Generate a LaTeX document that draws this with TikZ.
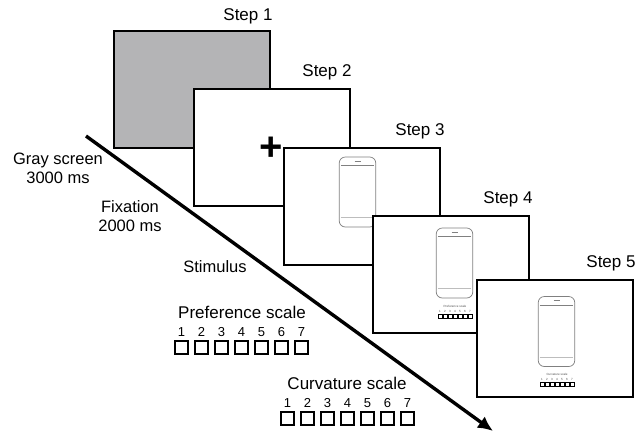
\documentclass[tikz,border=0pt]{standalone}
\usepackage{fontspec}
\setmainfont{Liberation Sans}
\usepackage{tikz}
\usetikzlibrary{arrows.meta, positioning}
\definecolor{scrGray}{HTML}{B4B4B6}
\definecolor{phoneDark}{HTML}{808080}
\definecolor{phoneLight}{HTML}{BDBDBD}
\tikzset{
  screenbox/.style={draw=black, line width=2pt, fill=white, minimum width=156pt, minimum height=117pt, inner sep=0pt},
  steplabel/.style={font=\fontsize{17}{19}\selectfont, inner sep=0pt},
  timelabel/.style={font=\fontsize{16.5}{19.5}\selectfont, inner sep=0pt, align=center},
  scaletitle/.style={font=\fontsize{17}{20}\selectfont, inner sep=0pt},
  scalenum/.style={font=\fontsize{13}{15}\selectfont, inner sep=0pt},
  scalebox/.style={draw=black, line width=1.2pt, minimum size=13pt, inner sep=0pt},
  phonebox/.style={draw=phoneDark, line width=0.7pt, rounded corners=6pt, fill=white, minimum width=36.5pt, minimum height=70pt, inner sep=0pt},
  phoneline/.style={draw=phoneDark, line width=0.5pt},
  minibox/.style={draw=black, line width=0.8pt, minimum size=3.8pt, inner sep=0pt},
  tinytext/.style={font=\fontsize{3}{4}\selectfont, inner sep=0pt, text=black!70},
}
\newcommand{\phonefig}[2]{% centre, name
  \node[phonebox] (#2) at (#1) {};
  \draw[phoneline] ([xshift=2pt,yshift=-9pt]#2.north west) -- ([xshift=-2pt,yshift=-9pt]#2.north east);
  \draw[phoneline, draw=phoneLight] ([xshift=2pt,yshift=10pt]#2.south west) -- ([xshift=-2pt,yshift=10pt]#2.south east);
  \draw[phoneline, line width=0.8pt] ([xshift=-3pt,yshift=-4.5pt]#2.north) -- ([xshift=3pt,yshift=-4.5pt]#2.north);
}
\newcommand{\miniscale}[3]{% left x, y, title
  \node[tinytext] at (#1+18,#2-9.5) {#3};
  \foreach \n in {1,...,7}{
    \node[minibox] at (#1+\n*5-5+3,#2) {};
    \node[tinytext] at (#1+\n*5-5+3,#2-5) {\n};
  }
}
\begin{document}
\begin{tikzpicture}[x=1pt,y=-1pt]
\useasboundingbox (0,0) rectangle (643,432);
% screens, back to front
\node[screenbox, fill=scrGray] (s1) at (192,89.5) {};
\node[screenbox] (s2) at (272,147.5) {};
\node[font=\fontsize{40}{40}\selectfont\bfseries, inner sep=0pt] (plus) at (271,149) {+};
\node[screenbox] (s3) at (362,206.5) {};
\phonefig{357.5,192}{ph3}
\node[screenbox] (s4) at (451,274) {};
\phonefig{454.5,263}{ph4}
\miniscale{437}{316}{Preference scale}
\node[screenbox] (s5) at (554.5,338) {};
\phonefig{556.5,331.5}{ph5}
\miniscale{539}{384}{Curvature scale}
\node[steplabel] (l1) at (248,16) {Step 1};
\node[steplabel] (l2) at (327,72) {Step 2};
\node[steplabel] (l3) at (420,131) {Step 3};
\node[steplabel] (l4) at (508,199) {Step 4};
\node[steplabel] (l5) at (611,263) {Step 5};
% time arrow
\coordinate (ta) at (86,136);
\coordinate (tb) at (493,431);
\draw[line width=3.4pt, -{Latex[length=15pt,width=14pt]}] (ta) -- (tb);
\node[timelabel] (t1) at (58,168.5) {Gray screen\\3000 ms};
\node[timelabel] (t2) at (130,216) {Fixation\\2000 ms};
\node[timelabel] (t3) at (215,267) {Stimulus};
% scales
\node[scaletitle] (pref) at (242,312) {Preference scale};
\foreach \n in {1,...,7}{
  \node[scalenum] (pn\n) at (181.5+\n*20-20,332) {\n};
  \node[scalebox] (pb\n) at (181.5+\n*20-20,347.5) {};
}
\node[scaletitle] (curv) at (347,383) {Curvature scale};
\foreach \n in {1,...,7}{
  \node[scalenum] (cn\n) at (287.5+\n*20-20,403) {\n};
  \node[scalebox] (cb\n) at (287.5+\n*20-20,418.5) {};
}
\end{tikzpicture}
\end{document}
